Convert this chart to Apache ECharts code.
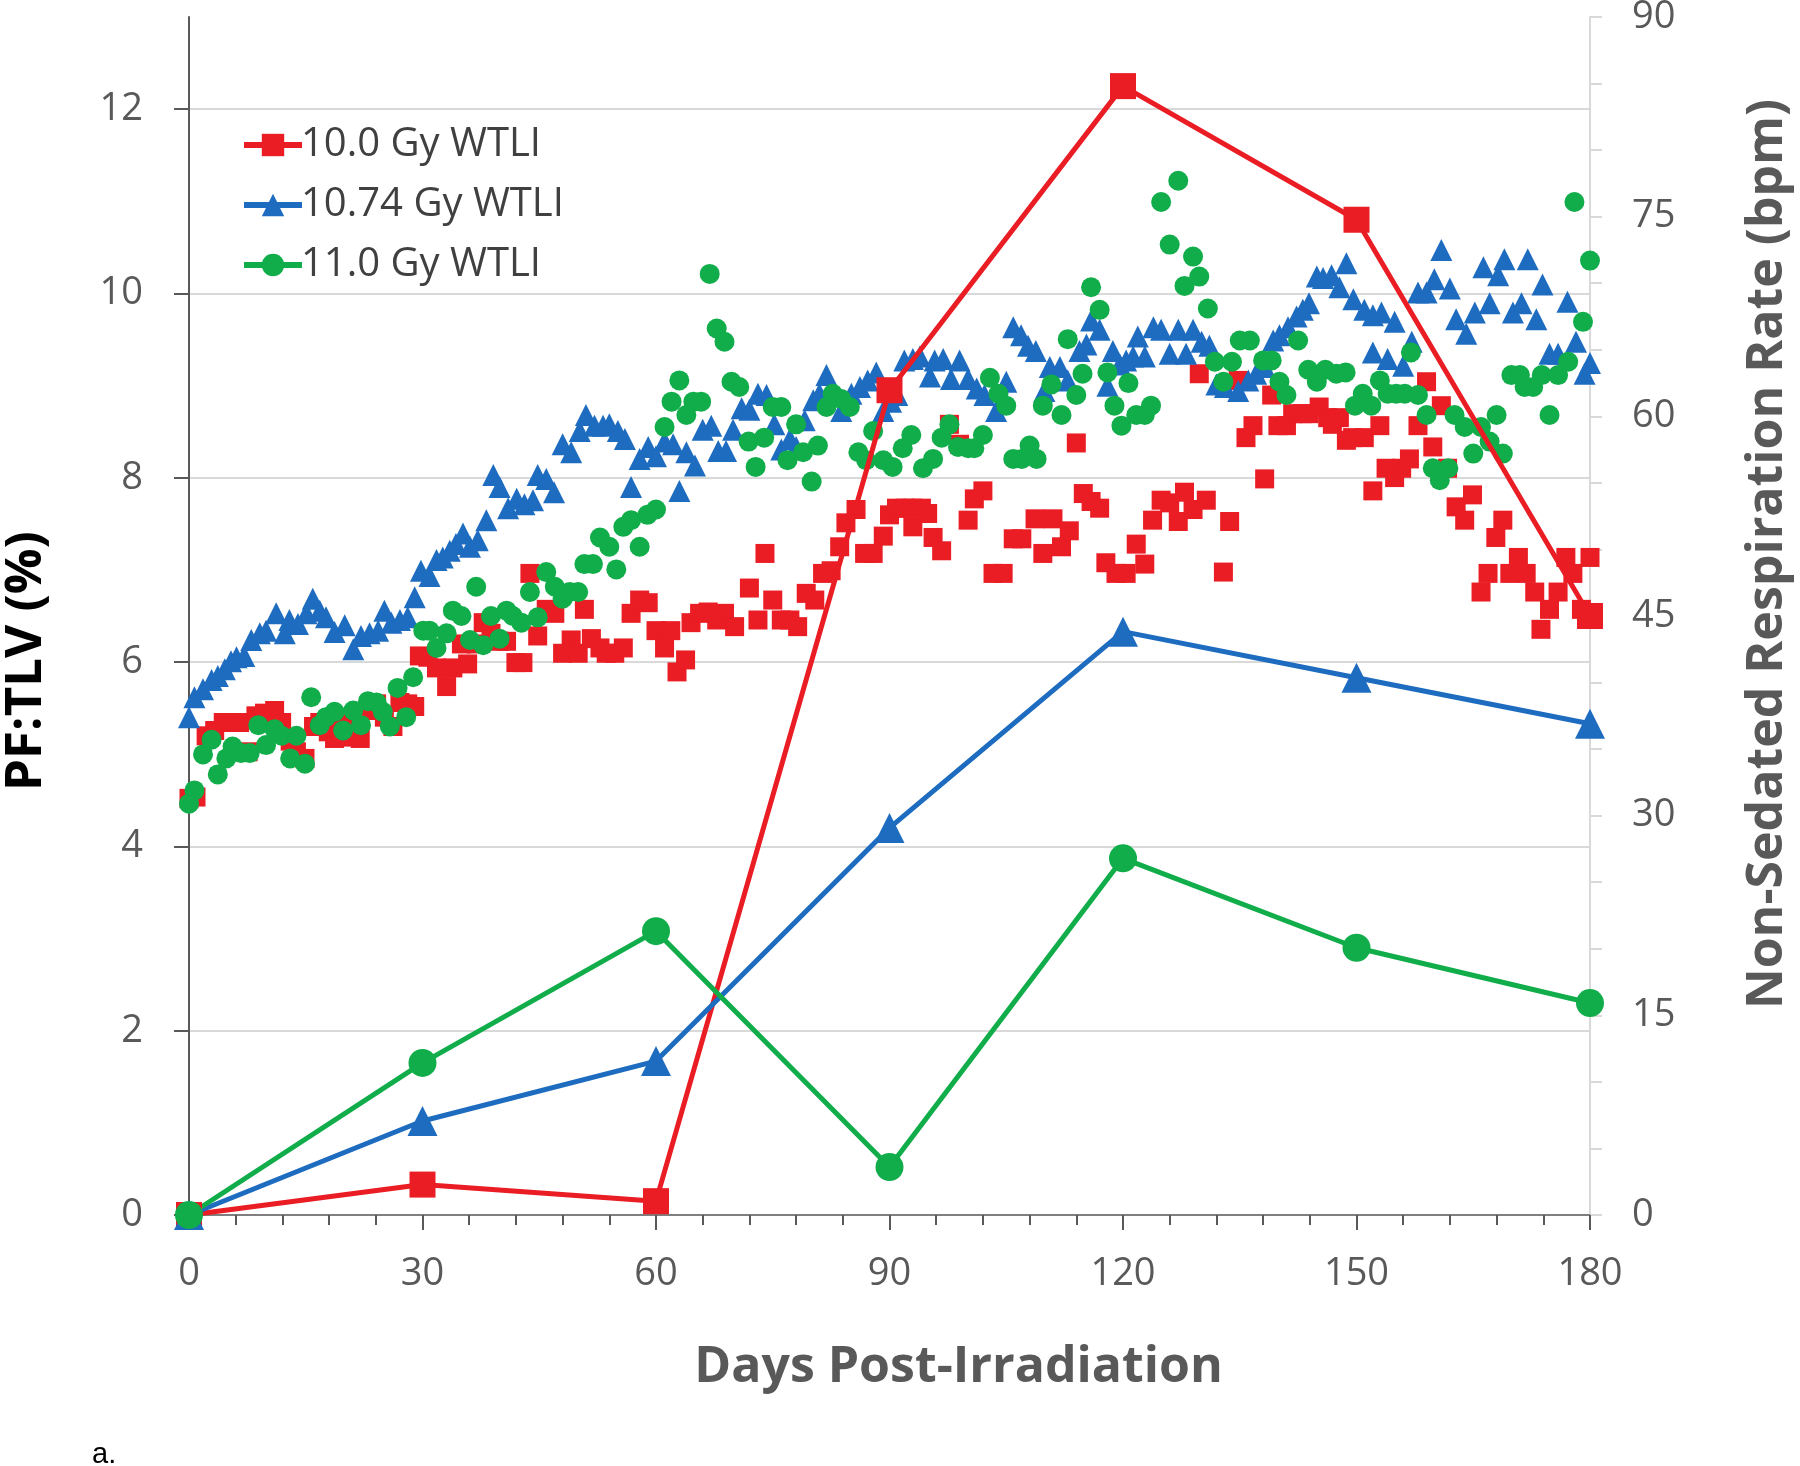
<!DOCTYPE html>
<html><head><meta charset="utf-8">
<script src="https://cdn.jsdelivr.net/npm/echarts@6/dist/echarts.min.js"></script>
<style>html,body{margin:0;padding:0;background:#fff}#c{width:1800px;height:1466px}</style>
</head><body><div id="c"></div>
<script>
// PF:TLV (%) at the 30-day assessments (left axis)
const pfDays = [0, 30, 60, 90, 120, 150, 180];
const pf10 = [0, 0.33, 0.15, 8.95, 12.25, 10.8, 6.5];
const pf1074 = [0, 1.02, 1.67, 4.2, 6.33, 5.83, 5.33];
const pf11 = [0, 1.65, 3.08, 0.52, 3.87, 2.9, 2.3];

// Non-sedated respiration rate (bpm) [day, bpm] (right axis)
const rr10 = [[0,31.3],[0.9,31.4],[2.2,36.0],[3.3,36.4],[4.4,37.0],[5.4,37.0],[6.5,37.0],[7.6,34.8],[8.6,37.5],[9.7,37.7],[11.0,37.9],[11.9,37.0],[13.0,35.6],[13.8,34.8],[14.9,34.3],[16.0,36.7],[16.8,37.0],[17.9,36.3],[18.7,35.8],[19.8,36.9],[20.9,35.9],[22.0,35.8],[23.0,37.9],[24.1,38.4],[25.1,37.4],[26.2,36.7],[27.1,38.5],[28.1,38.4],[29.0,38.2],[29.6,42.0],[30.7,41.9],[31.8,41.1],[33.1,39.7],[33.9,41.1],[35.0,42.9],[35.8,41.4],[36.9,42.9],[37.8,44.5],[38.8,43.7],[39.9,43.1],[40.8,43.1],[42.0,41.5],[42.9,41.5],[43.8,48.2],[44.8,43.5],[45.9,45.5],[47.0,45.2],[48.0,42.2],[49.1,43.2],[50.0,42.2],[50.8,45.5],[51.7,43.3],[52.8,42.6],[53.6,42.2],[54.7,42.2],[55.8,42.6],[56.8,45.2],[57.9,46.2],[59.0,46.0],[60.0,43.9],[61.1,42.6],[61.9,43.9],[62.7,40.8],[63.8,41.7],[64.5,44.5],[65.6,45.2],[66.7,45.3],[67.8,44.7],[68.8,45.2],[70.1,44.2],[72.0,47.1],[73.1,44.7],[74.0,49.7],[75.0,46.2],[76.1,44.7],[77.2,44.7],[78.2,44.2],[79.3,46.7],[80.4,46.2],[81.4,48.2],[82.5,48.4],[83.6,50.2],[84.4,52.0],[85.7,53.0],[86.8,49.7],[87.9,49.7],[89.2,51.0],[90.0,52.6],[90.9,53.1],[92.0,53.1],[93.0,53.1],[93.0,51.7],[94.1,53.1],[94.9,52.7],[95.6,50.9],[96.7,49.9],[97.7,59.4],[99.0,57.9],[100.1,52.2],[100.9,53.8],[102.0,54.4],[103.3,48.2],[104.6,48.2],[105.9,50.8],[107.0,50.8],[108.7,52.3],[109.7,49.7],[111.0,52.3],[112.1,50.2],[113.1,51.4],[114.0,58.0],[114.9,54.2],[115.9,53.6],[117.0,53.1],[117.8,49.0],[119.1,48.2],[120.4,48.2],[121.7,50.4],[122.8,48.9],[123.8,52.2],[124.9,53.7],[126.0,53.5],[127.1,52.1],[127.9,54.3],[129.0,53.0],[129.8,63.2],[130.7,53.7],[132.9,48.3],[133.7,52.1],[134.8,62.7],[135.8,58.4],[136.7,59.3],[138.2,55.3],[139.1,61.6],[139.9,59.3],[141.0,59.3],[141.8,60.2],[143.1,60.2],[143.9,60.2],[145.2,60.7],[146.3,59.9],[146.9,59.4],[147.8,59.9],[148.7,58.2],[149.5,58.4],[151.0,58.4],[152.1,54.4],[153.0,59.3],[153.8,56.1],[154.9,55.4],[155.8,56.1],[156.8,56.8],[157.9,59.3],[159.0,62.6],[159.8,57.7],[160.9,60.8],[161.7,56.1],[162.8,53.2],[163.9,52.2],[164.9,54.1],[166.0,46.8],[166.9,48.2],[167.9,50.9],[168.8,52.2],[169.7,48.2],[170.8,49.4],[171.8,48.2],[172.9,46.8],[173.7,44.0],[174.8,45.5],[175.9,46.8],[176.9,49.4],[177.8,48.2],[178.9,45.5],[180.0,49.4],[180.2,44.9]];

const rr1074 = [[0,37.4],[0.7,38.9],[1.8,39.5],[2.9,40.2],[3.7,40.5],[4.6,41.0],[5.4,41.6],[6.1,41.9],[7.1,42.0],[8.0,43.2],[9.1,43.7],[9.9,43.9],[11.2,45.2],[12.3,43.7],[12.9,44.7],[14.0,44.4],[15.1,45.2],[15.9,46.3],[16.8,45.4],[17.6,44.9],[18.7,43.8],[20.0,44.3],[21.1,42.5],[22.1,43.5],[23.2,43.7],[24.3,43.9],[25.1,45.4],[26.0,44.5],[27.1,44.7],[28.1,44.9],[29.0,46.4],[29.8,48.4],[30.9,48.0],[31.8,49.2],[32.6,49.4],[33.5,49.9],[34.3,50.4],[35.2,51.2],[36.1,50.2],[37.1,50.7],[38.2,52.2],[39.1,55.6],[39.9,54.7],[41.0,53.1],[42.1,53.8],[43.1,53.4],[44.2,53.7],[44.8,55.6],[45.9,55.3],[46.9,54.3],[48.0,57.9],[49.1,57.3],[50.2,58.9],[51.0,60.1],[52.1,59.3],[53.2,59.3],[54.0,59.4],[55.1,58.9],[56.0,58.3],[56.8,54.7],[57.9,56.8],[59.0,57.7],[60.0,57.0],[61.1,58.1],[62.2,57.9],[63.0,54.4],[63.9,57.3],[65.0,56.3],[66.0,59.0],[67.1,59.3],[68.0,57.4],[69.0,57.4],[69.9,59.0],[71.0,60.6],[72.0,60.5],[73.1,61.7],[74.2,61.6],[75.2,59.4],[76.1,57.5],[77.2,58.3],[78.0,57.7],[79.1,59.7],[80.2,61.2],[81.0,61.7],[81.9,63.1],[83.8,60.4],[85.1,61.7],[86.2,62.2],[87.2,62.7],[88.3,63.3],[89.2,60.4],[90.2,61.1],[91.0,61.6],[91.9,64.2],[93.0,64.3],[93.9,64.5],[95.2,63.0],[95.8,64.2],[96.9,64.3],[97.9,62.8],[99.0,64.2],[100.1,62.8],[101.2,62.1],[102.2,61.6],[103.7,60.4],[105.0,62.6],[105.9,66.7],[106.9,66.1],[107.8,65.3],[108.8,64.9],[109.9,61.9],[110.6,63.7],[111.9,63.7],[112.9,62.7],[114.4,64.9],[115.3,65.4],[115.9,67.2],[117.0,66.5],[118.0,62.3],[118.7,64.9],[119.6,63.9],[120.4,64.2],[121.3,64.5],[121.9,66.0],[122.8,64.5],[123.9,66.7],[124.9,66.5],[126.0,64.7],[127.1,66.5],[128.1,64.7],[129.0,66.5],[130.1,65.6],[131.1,65.3],[132.0,62.4],[133.1,62.2],[134.8,61.9],[136.1,62.7],[137.1,63.2],[138.2,63.7],[139.3,65.7],[140.1,66.1],[141.2,66.7],[142.3,67.5],[143.1,68.0],[143.9,68.5],[144.9,70.5],[145.7,70.4],[146.8,70.6],[147.8,69.7],[148.7,71.5],[149.6,68.8],[151.0,68.0],[152.1,67.6],[152.1,64.8],[153.2,67.8],[154.0,64.3],[154.9,67.1],[156.0,63.8],[157.1,65.6],[157.9,69.3],[159.0,69.3],[160.0,70.3],[160.9,72.5],[162.0,69.6],[162.8,67.3],[164.1,66.2],[165.2,67.8],[166.3,71.2],[167.1,68.5],[168.2,70.6],[169.0,71.8],[170.1,67.8],[171.2,68.5],[172.0,71.8],[173.1,67.3],[173.9,69.9],[174.8,64.7],[175.9,64.7],[177.1,68.6],[178.2,65.6],[179.3,63.2],[180.0,64.0]];

const rr11 = [[0,30.9],[0.7,31.9],[1.8,34.6],[2.9,35.7],[3.7,33.1],[4.8,34.3],[5.6,35.2],[6.7,34.7],[7.8,34.7],[8.9,36.8],[9.9,35.3],[11.0,36.5],[11.9,36.0],[13.0,34.3],[13.8,36.0],[14.9,33.9],[15.7,38.9],[16.8,36.8],[17.6,37.4],[18.7,37.8],[19.8,36.4],[21.1,37.9],[22.1,36.8],[23.0,38.6],[24.1,38.5],[24.9,37.8],[25.8,36.7],[26.8,39.6],[27.9,37.4],[28.8,40.4],[30.1,43.9],[30.9,43.9],[31.8,42.6],[33.1,43.7],[33.9,45.4],[35.0,45.0],[36.1,43.2],[36.9,47.2],[37.8,42.8],[38.8,45.0],[39.9,43.3],[40.8,45.4],[41.6,45.0],[42.7,44.5],[43.8,46.8],[44.8,44.9],[45.9,48.3],[47.0,47.2],[48.0,46.3],[48.9,46.8],[50.0,46.8],[50.8,48.9],[51.9,48.9],[52.8,50.9],[54.0,50.2],[54.9,48.5],[55.8,51.7],[56.8,52.2],[57.9,50.2],[58.9,52.6],[60.0,53.0],[61.1,59.2],[62.0,61.1],[63.0,62.7],[63.9,60.1],[64.8,61.1],[65.8,61.1],[66.9,70.7],[67.8,66.6],[68.8,65.6],[69.7,62.6],[70.7,62.2],[71.9,58.1],[72.8,56.2],[73.9,58.4],[75.0,60.7],[76.1,60.7],[76.9,56.7],[78.0,59.4],[78.9,57.3],[80.0,55.1],[80.8,57.8],[81.9,60.7],[82.7,61.7],[83.8,61.3],[84.9,60.7],[86.0,57.3],[87.0,56.7],[87.9,58.9],[89.2,56.7],[90.4,56.2],[91.7,57.6],[92.8,58.6],[94.3,56.1],[95.6,56.8],[96.7,58.4],[97.7,59.4],[98.8,57.7],[100.1,57.6],[100.9,57.6],[102.0,58.6],[102.9,62.9],[104.0,61.7],[105.0,60.8],[105.9,56.8],[107.0,56.8],[108.0,57.8],[108.9,56.8],[109.7,60.8],[110.8,62.4],[112.1,60.1],[112.9,65.8],[114.0,61.6],[114.8,63.2],[115.9,69.7],[117.0,68.0],[118.0,63.3],[118.9,60.8],[119.8,59.3],[120.7,62.5],[121.7,60.1],[122.8,60.1],[123.6,60.8],[124.9,76.1],[126.0,72.9],[127.1,77.7],[127.9,69.8],[129.0,72.0],[129.8,70.5],[130.9,68.1],[131.8,64.1],[132.9,62.6],[134.0,64.1],[135.0,65.7],[136.3,65.7],[138.0,64.2],[139.1,64.2],[140.1,62.6],[141.0,61.6],[142.5,65.7],[143.8,63.5],[144.9,62.6],[146.0,63.5],[147.4,63.2],[148.6,63.3],[149.8,60.8],[150.8,61.7],[151.9,60.8],[153.0,62.7],[154.0,61.7],[155.1,61.7],[156.2,61.7],[157.0,64.8],[157.9,61.6],[159.0,60.1],[159.8,56.1],[160.7,55.2],[161.8,56.1],[162.6,60.1],[163.9,59.2],[165.0,57.2],[166.0,59.2],[167.1,58.1],[168.0,60.1],[168.8,57.2],[169.9,63.1],[171.0,63.1],[171.6,62.2],[172.7,62.2],[173.8,63.1],[174.8,60.1],[175.9,63.1],[177.2,64.1],[178.0,76.1],[179.1,67.1],[180.0,71.7]];

const seriesNames = ['10.0 Gy WTLI', '10.74 Gy WTLI', '11.0 Gy WTLI'];
const xTicks = [0, 30, 60, 90, 120, 150, 180];

const RED = '#ea1c24', BLUE = '#1e6cc0', GREEN = '#10ad4a';
const FONT = '"Open Sans", "DejaVu Sans", sans-serif';

function lineSeries(name, vals, color, symbol, size) {
  return {
    name, type: 'line', xAxisIndex: 0, yAxisIndex: 0,
    data: pfDays.map((d, i) => [d, vals[i]]),
    symbol, symbolSize: size, showAllSymbol: true,
    lineStyle: { color, width: 5 }, itemStyle: { color },
    z: 10, animation: false
  };
}
function scatterSeries(name, pts, color, symbol, size) {
  return {
    name, type: 'scatter', xAxisIndex: 0, yAxisIndex: 1,
    data: pts, symbol, symbolSize: size,
    itemStyle: { color, opacity: 1 }, z: 3, animation: false
  };
}

const chart = echarts.init(document.getElementById('c'), null, { renderer: 'canvas' });
chart.setOption({
  backgroundColor: '#ffffff',
  animation: false,
  textStyle: { fontFamily: FONT },
  grid: { left: 189, right: 210, top: 17, bottom: 251, containLabel: false, outerBoundsMode: 'none' },
  legend: {
    data: seriesNames, orient: 'vertical', left: 236, top: 120,
    itemWidth: 58, itemHeight: 28, itemGap: 20,
    lineStyle: { width: 6 },
    textStyle: { fontSize: 40, color: '#404040', fontFamily: FONT, padding: [0, 0, 0, -6] },
    selectedMode: false
  },
  xAxis: {
    type: 'value', min: 0, max: 180, interval: 30,
    name: 'Days Post-Irradiation', nameLocation: 'middle', nameGap: 128,
    nameTextStyle: { fontSize: 50, fontWeight: 'bold', color: '#595959', fontFamily: FONT, padding: [0, 0, 0, 138] },
    axisLine: { show: true, onZero: false, lineStyle: { color: '#7f7f7f', width: 2 } },
    axisTick: { show: true, length: 15, lineStyle: { color: '#595959', width: 2 } },
    minorTick: { show: true, splitNumber: 5, length: 10, lineStyle: { color: '#595959', width: 2 } },
    axisLabel: { fontSize: 38, color: '#595959', margin: 40, fontFamily: FONT },
    splitLine: { show: false }
  },
  yAxis: [
    {
      type: 'value', min: 0, max: 13, interval: 2, position: 'left',
      name: 'PF:TLV (%)', nameLocation: 'middle', nameGap: 137, nameRotate: 90,
      nameTextStyle: { fontSize: 51, fontWeight: 'bold', color: '#000000', fontFamily: FONT, padding: [0, 90, 0, 0] },
      axisLine: { show: true, onZero: false, lineStyle: { color: '#595959', width: 2 } },
      axisTick: { show: true, length: 15, customValues: [0, 2, 4, 6, 8, 10, 12], lineStyle: { color: '#595959', width: 2 } },
      axisLabel: { fontSize: 38, color: '#595959', margin: 46, showMaxLabel: false, fontFamily: FONT },
      splitLine: { show: true, lineStyle: { width: 2, color: ['#d9d9d9', '#d9d9d9', '#d9d9d9', '#d9d9d9', '#d9d9d9', '#d9d9d9', '#d9d9d9', 'rgba(0,0,0,0)'] } }
    },
    {
      type: 'value', min: 0, max: 90, interval: 15, position: 'right',
      name: 'Non-Sedated Respiration Rate (bpm)', nameLocation: 'middle', nameGap: 153, nameRotate: 90,
      nameTextStyle: { fontSize: 50, fontWeight: 'bold', color: '#595959', fontFamily: FONT, padding: [0, 0, 0, 124] },
      axisLine: { show: true, onZero: false, lineStyle: { color: '#d9d9d9', width: 2 } },
      axisTick: { show: true, length: 12, lineStyle: { color: '#d9d9d9', width: 2 } },
      minorTick: { show: true, splitNumber: 3, length: 12, lineStyle: { color: '#d9d9d9', width: 2 } },
      axisLabel: { fontSize: 38, color: '#595959', margin: 42, fontFamily: FONT },
      splitLine: { show: false }
    }
  ],
  graphic: [{
    type: 'text', left: 92, top: 1440,
    style: { text: 'a.', fontSize: 29, fill: '#000', fontFamily: '"Liberation Sans", Arial, sans-serif' }
  }],
  series: [
    lineSeries(seriesNames[0], pf10, RED, 'rect', 26),
    lineSeries(seriesNames[1], pf1074, BLUE, 'triangle', 30),
    lineSeries(seriesNames[2], pf11, GREEN, 'circle', 28),
    scatterSeries(seriesNames[0], rr10, RED, 'rect', 19),
    scatterSeries(seriesNames[1], rr1074, BLUE, 'triangle', 22),
    scatterSeries(seriesNames[2], rr11, GREEN, 'circle', 20)
  ]
});
</script>
</body></html>
